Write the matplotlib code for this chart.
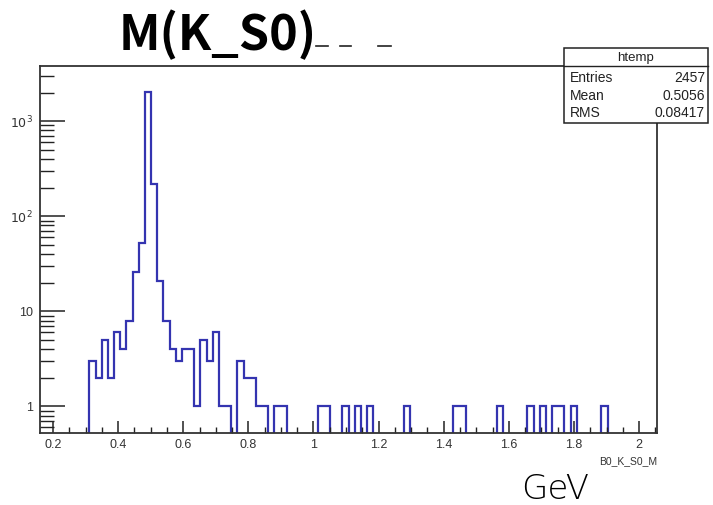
import numpy as np
import matplotlib
matplotlib.use("Agg")
import matplotlib.pyplot as plt
from matplotlib.patches import Rectangle
from matplotlib.lines import Line2D
from matplotlib.ticker import FixedLocator, LogLocator, NullFormatter, MultipleLocator

# Histogram definition: 100 uniform bins of B0_K_S0_M
xmin, xmax, nbins = 0.16, 2.055, 100
filled_bins = [8, 9, 10, 11, 12, 13, 14, 15, 16, 17, 18, 19, 20, 21, 22, 23, 24,
               25, 26, 27, 28, 29, 30, 32, 33, 34, 35, 36, 38, 39,
               45, 46, 49, 51, 53, 59, 67, 68, 74, 79, 81, 83, 84, 86, 91]
filled_counts = [3, 2, 5, 2, 6, 4, 8, 26, 52, 2040, 220, 21, 8, 4, 3, 4, 4,
                 1, 5, 3, 6, 1, 1, 3, 2, 2, 1, 1, 1, 1,
                 1, 1, 1, 1, 1, 1, 1, 1, 1, 1, 1, 1, 1, 1, 1]

stats_name = "htemp"
stats_rows = [("Entries", "2457"), ("Mean", "0.5056"), ("RMS", "0.08417")]

x_ticks = [0.2, 0.4, 0.6, 0.8, 1.0, 1.2, 1.4, 1.6, 1.8, 2.0]
x_tick_labels = ["0.2", "0.4", "0.6", "0.8", "1", "1.2", "1.4", "1.6", "1.8", "2"]
y_ticks = [1, 10, 100, 1000]
y_tick_labels = ["1", "10", r"$10^2$", r"$10^3$"]

W, H = 713, 505
fig = plt.figure(figsize=(W / 100, H / 100), dpi=100)
fig.patch.set_facecolor("white")

def fx(px):
    return px / W

def fy(py):
    return 1 - py / H

left, right, top, bottom = 40, 657, 66, 433
ax = fig.add_axes([fx(left), fy(bottom), fx(right - left), (bottom - top) / H])

counts = np.zeros(nbins)
counts[filled_bins] = filled_counts
edges = np.linspace(xmin, xmax, nbins + 1)

ymin, ymax = 0.525, 3800
floor = 1e-3
plot_vals = np.where(counts > 0, counts, floor)
ax.set_yscale("log")
ax.stairs(plot_vals, edges, baseline=floor, fill=False,
          color="#3434b0", linewidth=1.6, clip_on=True)

ax.set_xlim(xmin, xmax)
ax.set_ylim(ymin, ymax)

ax.xaxis.set_major_locator(FixedLocator(x_ticks))
ax.set_xticklabels(x_tick_labels)
ax.xaxis.set_minor_locator(MultipleLocator(0.05))
ax.yaxis.set_major_locator(FixedLocator(y_ticks))
ax.set_yticklabels(y_tick_labels)
ax.yaxis.set_minor_locator(LogLocator(base=10, subs=np.arange(2, 10)))
ax.yaxis.set_minor_formatter(NullFormatter())

tick_color = "#222222"
ax.tick_params(axis="x", which="major", direction="in", length=9, width=1.1,
               color=tick_color, labelsize=9, labelcolor="#333333", pad=4,
               top=False)
ax.tick_params(axis="x", which="minor", direction="in", length=4.5, width=1.0,
               color=tick_color, top=False)
ax.tick_params(axis="y", which="major", direction="in", length=18, width=1.1,
               color=tick_color, labelsize=9, labelcolor="#333333", pad=5,
               right=False)
ax.tick_params(axis="y", which="minor", direction="in", length=10, width=1.0,
               color=tick_color, right=False)
for lbl in ax.get_xticklabels() + ax.get_yticklabels():
    lbl.set_family(["Liberation Sans", "DejaVu Sans"])

for s in ax.spines.values():
    s.set_linewidth(1.3)
    s.set_color("#333333")

# axis title under the frame, right aligned
fig.text(fx(right), fy(461), "B0_K_S0_M", ha="right", va="center",
         fontsize=7.5, color="#333333", family=["Liberation Sans", "DejaVu Sans"])

# statistics box
bx0, bx1, by0, by1, bdiv = 564, 708, 48, 123, 66
fig.patches.append(Rectangle((fx(bx0), fy(by1)), fx(bx1 - bx0), (by1 - by0) / H,
                             transform=fig.transFigure, facecolor="white",
                             edgecolor="#222222", linewidth=1.1, zorder=5))
fig.lines.append(Line2D([fx(bx0), fx(bx1)], [fy(bdiv), fy(bdiv)],
                        transform=fig.transFigure, color="#222222",
                        linewidth=1.0, zorder=6))
fig.text(fx((bx0 + bx1) / 2), fy(58), stats_name, ha="center", va="center",
         fontsize=9.5, color="#222222", family=["Liberation Sans"], zorder=7)
for i, (name, val) in enumerate(stats_rows):
    yy = fy(78 + i * 17.5)
    fig.text(fx(bx0 + 6), yy, name, ha="left", va="center", fontsize=10,
             color="#222222", family=["Liberation Sans"], zorder=7)
    fig.text(fx(bx1 - 3), yy, val, ha="right", va="center", fontsize=10,
             color="#222222", family=["Liberation Sans"], zorder=7)

# title
fig.text(fx(119), fy(50), "M(K_S0)", ha="left", va="baseline", fontsize=35,
         fontweight="bold", family=["Noto Sans CJK JP", "DejaVu Sans"],
         color="black")
for x0, x1 in [(316, 328), (340, 351), (378, 391)]:
    fig.lines.append(Line2D([fx(x0), fx(x1)], [fy(46), fy(46)],
                            transform=fig.transFigure, color="#222222",
                            linewidth=1.2))

# unit text
fig.text(fx(521), fy(499), "GeV", ha="left", va="baseline", fontsize=24.5,
         fontweight="light", family=["DejaVu Sans"], color="black")

fig.savefig("out.png", dpi=100)
